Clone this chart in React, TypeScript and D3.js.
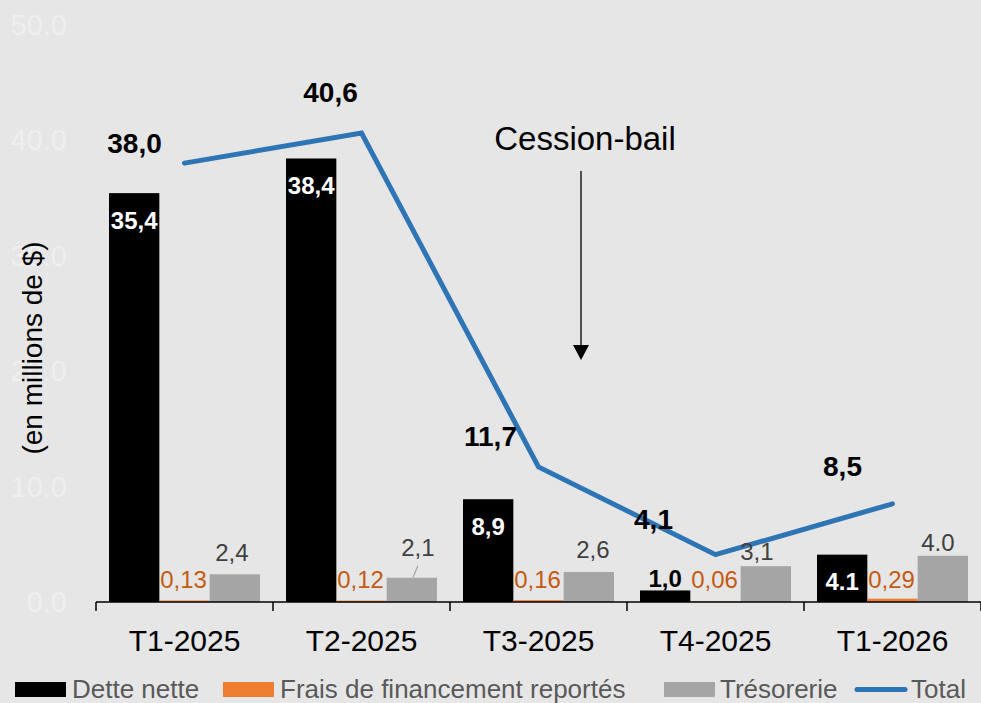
import React from 'react';
import * as d3 from 'd3';

const categories = ['T1-2025', 'T2-2025', 'T3-2025', 'T4-2025', 'T1-2026'];
const detteNette = [35.4, 38.4, 8.9, 1.0, 4.1];
const detteLabels = ['35,4', '38,4', '8,9', '1,0', '4.1'];
const fraisReportes = [0.13, 0.12, 0.16, 0.06, 0.29];
const fraisLabels = ['0,13', '0,12', '0,16', '0,06', '0,29'];
const tresorerie = [2.4, 2.1, 2.6, 3.1, 4.0];
const tresoLabels = ['2,4', '2,1', '2,6', '3,1', '4.0'];
const total = [38.0, 40.6, 11.7, 4.1, 8.5];
const totalLabels = ['38,0', '40,6', '11,7', '4,1', '8,5'];
const yTicks = [0, 10, 20, 30, 40, 50];
const seriesKeys = ['dette', 'frais', 'treso'];
const legendNames = ['Dette nette', 'Frais de financement reportés', 'Trésorerie', 'Total'];
const annotation = 'Cession-bail';
const yTitle = '(en millions de $)';

// label placement offsets (style/layout)
const totalLabelOffsets: [number, number][] = [[-50, -20], [-31, -41], [-48, -30], [-62, -35], [-50, -37]];
const tresoLabelOffsets: [number, number][] = [[-3, -22], [6, -30], [4, -22], [-9, -15], [-5, -13]];

const W = 981;
const H = 703;
const FONT = '"Liberation Sans", Arial, sans-serif';
const COLORS = { dette: '#000000', frais: '#ED7D31', treso: '#A5A5A5', total: '#2E75B6' };

export default function App() {
  const x = d3.scaleBand<string>().domain(categories).range([96, 981]).paddingInner(0).paddingOuter(0);
  const bw = x.bandwidth();
  const xs = d3.scaleBand<string>().domain(seriesKeys).range([13, bw - 13]).paddingInner(0);
  const sw = xs.bandwidth();
  const y = d3.scaleLinear().domain([0, 50]).range([602, 24.5]);
  const y0 = y(0);

  const linePts: [number, number][] = categories.map((c, i) => [x(c)! + bw / 2, y(total[i])]);
  const lineGen = d3.line();

  const legendRects = [15, 223, 664, 854];
  const legendTexts = [72, 280, 720, 911];
  const legendY = 689;

  return (
    <svg width={W} height={H} style={{ position: 'absolute', left: 0, top: 0, display: 'block' }} fontFamily={FONT}>
      <rect x={0} y={0} width={W} height={H} fill="#e6e6e6" />

      {/* Y tick labels (nearly invisible white) */}
      {yTicks.map((t) => (
        <text key={t} x={67} y={y(t)} textAnchor="end" dominantBaseline="central" fontSize={29} fill="#efefef">
          {d3.format('.1f')(t)}
        </text>
      ))}

      {/* Y title */}
      <text
        transform={`translate(32,348) rotate(-90)`}
        textAnchor="middle"
        dominantBaseline="central"
        fontSize={28}
        fill="#000"
      >
        {yTitle}
      </text>

      {/* Bars */}
      {categories.map((c, i) => {
        const bx = x(c)!;
        return (
          <g key={c}>
            <rect x={bx + xs('dette')!} y={y(detteNette[i])} width={sw} height={y0 - y(detteNette[i])} fill={COLORS.dette} />
            <rect x={bx + xs('frais')!} y={y(fraisReportes[i])} width={sw} height={y0 - y(fraisReportes[i])} fill={COLORS.frais} />
            <rect x={bx + xs('treso')!} y={y(tresorerie[i])} width={sw} height={y0 - y(tresorerie[i])} fill={COLORS.treso} />
          </g>
        );
      })}

      {/* Axis */}
      <line x1={96} x2={981} y1={y0} y2={y0} stroke="#000" strokeWidth={1.5} />
      {[...categories.map((c) => x(c)!), 981].map((tx, i) => (
        <line key={i} x1={tx} x2={tx} y1={y0} y2={y0 + 9} stroke="#000" strokeWidth={1.5} />
      ))}
      {categories.map((c) => (
        <text key={c} x={x(c)! + bw / 2} y={651} textAnchor="middle" fontSize={30} fill="#000">
          {c}
        </text>
      ))}

      {/* Total line */}
      <path d={lineGen(linePts)!} fill="none" stroke={COLORS.total} strokeWidth={5} strokeLinecap="round" strokeLinejoin="miter" />

      {/* Dette labels */}
      {categories.map((c, i) => {
        const cx = x(c)! + bw / 2 - sw;
        const top = y(detteNette[i]);
        const inside = y0 - top > 40;
        return (
          <text key={c} x={cx} y={inside ? top + 27 : top - 12} textAnchor="middle" dominantBaseline="central" fontSize={24} fontWeight="bold" fill={inside ? '#fff' : '#000'}>
            {detteLabels[i]}
          </text>
        );
      })}

      {/* Frais labels */}
      {categories.map((c, i) => (
        <text key={c} x={x(c)! + bw / 2 - 1} y={579} textAnchor="middle" dominantBaseline="central" fontSize={24} fill="#C55A11">
          {fraisLabels[i]}
        </text>
      ))}

      {/* Tresorerie labels */}
      {categories.map((c, i) => {
        const cx = x(c)! + xs('treso')! + sw / 2;
        const top = y(tresorerie[i]);
        const [dx, dy] = tresoLabelOffsets[i];
        return (
          <g key={c}>
            {i === 1 && <line x1={cx + 6} y1={top - 12} x2={cx + 1} y2={top} stroke="#A5A5A5" strokeWidth={1.2} />}
            <text x={cx + dx} y={top + dy} textAnchor="middle" dominantBaseline="central" fontSize={24} fill="#404040">
              {tresoLabels[i]}
            </text>
          </g>
        );
      })}

      {/* Total labels */}
      {linePts.map(([px, py], i) => (
        <text key={i} x={px + totalLabelOffsets[i][0]} y={py + totalLabelOffsets[i][1]} textAnchor="middle" dominantBaseline="central" fontSize={28} fontWeight="bold" fill="#000">
          {totalLabels[i]}
        </text>
      ))}

      {/* Annotation */}
      <text x={585} y={138} textAnchor="middle" dominantBaseline="central" fontSize={33} fill="#000">
        {annotation}
      </text>
      <line x1={581} x2={581} y1={171} y2={346} stroke="#000" strokeWidth={1.3} />
      <path d="M573,345 L589,345 L581,360 Z" fill="#000" />

      {/* Legend */}
      {legendNames.map((n, i) => (
        <g key={n}>
          {i < 3 ? (
            <rect x={legendRects[i]} y={legendY - 7} width={51} height={15} fill={[COLORS.dette, COLORS.frais, COLORS.treso][i]} />
          ) : (
            <line x1={legendRects[i] + 3} x2={legendRects[i] + 51} y1={legendY + 0.5} y2={legendY + 0.5} stroke={COLORS.total} strokeWidth={5} strokeLinecap="round" />
          )}
          <text x={legendTexts[i]} y={legendY} dominantBaseline="central" fontSize={26} fill="#595959">
            {n}
          </text>
        </g>
      ))}
    </svg>
  );
}
